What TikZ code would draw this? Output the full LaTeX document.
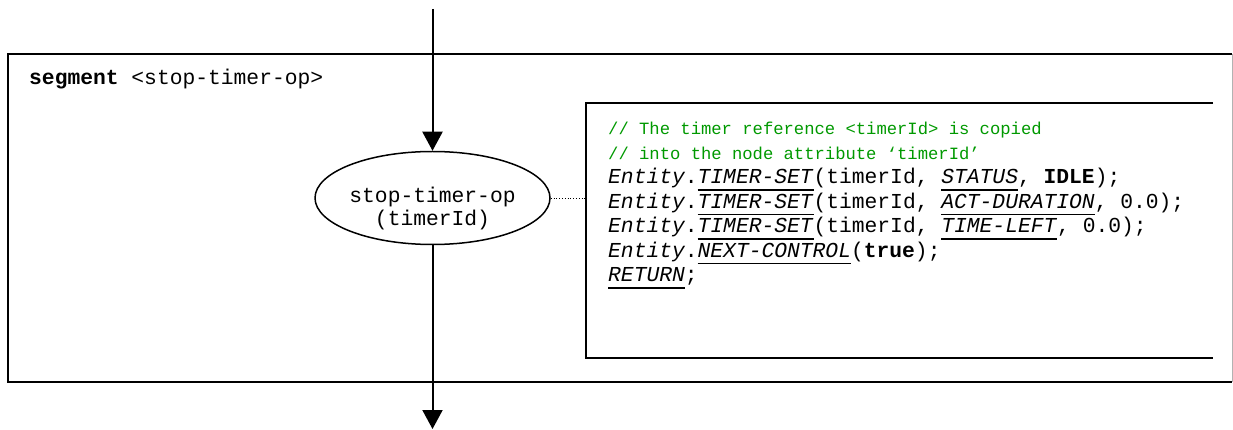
\documentclass[tikz,border=0pt]{standalone}
\usepackage{fontspec}
\setmainfont{Liberation Mono}
\usepackage{tikz}
\usetikzlibrary{arrows.meta,positioning,shapes.geometric}
\definecolor{cmtgreen}{RGB}{0,153,0}
\newcommand{\opname}[1]{\setbox0\hbox{\textit{#1}}\rlap{\rule[-7pt]{\wd0}{1.5pt}}\box0}
\newcommand{\cmt}[1]{{\fontsize{17.2}{24.5}\selectfont\color{cmtgreen}#1}}

\begin{document}
\begin{tikzpicture}[
    x=1pt, y=-1pt,
    frame/.style={line width=2pt},
    oper/.style={draw, ellipse, line width=1.5pt, minimum width=221pt, minimum height=93pt, inner sep=0pt, align=center, font=\fontsize{21.3}{23}\selectfont},
    arrow/.style={-{Triangle[length=19pt,width=20pt]}, line width=2pt},
    codetext/.style={align=left, inner sep=0pt, font=\fontsize{21.3}{24.5}\selectfont},
    label/.style={font=\fontsize{21.3}{24}\selectfont, inner sep=0pt}
]
\useasboundingbox (0,0) rectangle (1233,430);

% Segment frame
\draw[frame] (1232,54) -- (8,54) -- (8,382) -- (1232,382);
\draw[gray!60, line width=1pt] (1232,54) -- (1232,382);
\node[label, anchor=west] (title) at (29,79) {\textbf{segment} <stop-timer-op>};

% Operation node
\node[oper] (stop) at (432.5,198) {\rule{0pt}{36pt}stop-timer-op\\(timerId)};
\coordinate (in) at (432.5,9);
\coordinate (out) at (432.5,429);

% Code box, open at the right
\draw[frame] (1213,103) -- (586,103) -- (586,358) -- (1213,358);
\coordinate (codeW) at (586,198);
\node[codetext, anchor=north west] (code) at (608,122) {
    \cmt{// The timer reference <timerId> is copied}\\
    \cmt{// into the node attribute ‘timerId’}\\
    \textit{Entity}.\opname{TIMER-SET}(timerId, \opname{STATUS}, \textbf{IDLE});\\
    \textit{Entity}.\opname{TIMER-SET}(timerId, \opname{ACT-DURATION}, 0.0);\\
    \textit{Entity}.\opname{TIMER-SET}(timerId, \opname{TIME-LEFT}, 0.0);\\
    \textit{Entity}.\opname{NEXT-CONTROL}(\textbf{true});\\
    \opname{RETURN};
};

% Connectors
\draw[arrow] (in) -- (stop);
\draw[arrow] (stop) -- (out);
\draw[dotted, line width=0.8pt] (stop) -- (codeW);

\end{tikzpicture}
\end{document}
